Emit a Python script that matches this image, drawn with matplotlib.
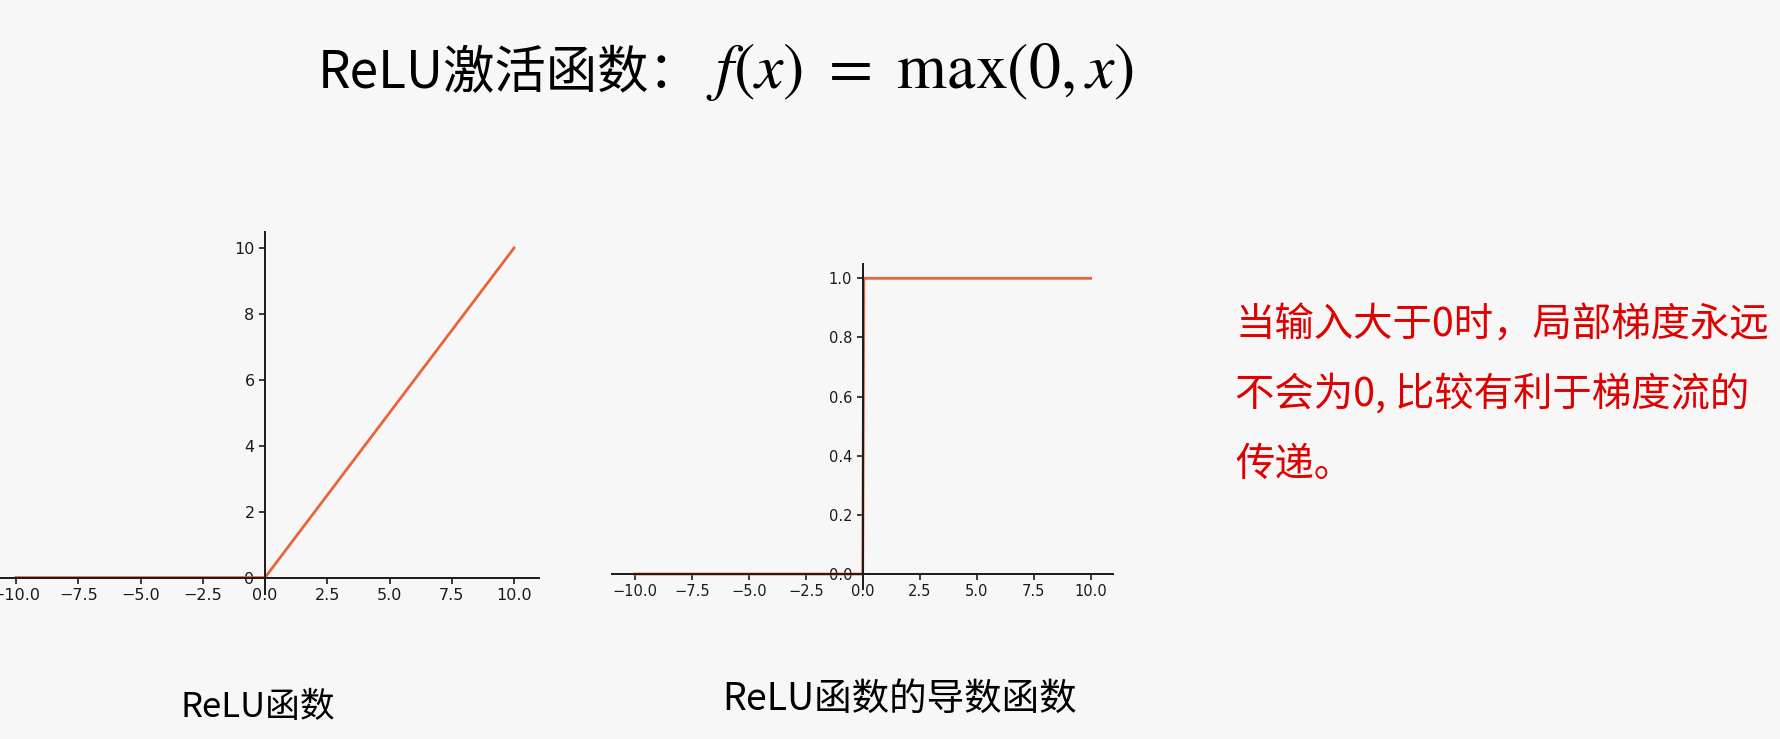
import matplotlib
matplotlib.use("Agg")
import matplotlib.pyplot as plt

# ---- data ----
relu_x = [-10.0, 0.0, 10.0]
relu_y = [0.0, 0.0, 10.0]
deriv_x = [-10.0, 0.0, 0.05, 10.0]
deriv_y = [0.0, 0.0, 1.0, 1.0]
x_ticks = [-10.0, -7.5, -5.0, -2.5, 0.0, 2.5, 5.0, 7.5, 10.0]
relu_yticks = [0, 2, 4, 6, 8, 10]
deriv_yticks = [0.0, 0.2, 0.4, 0.6, 0.8, 1.0]

title_text = "ReLU激活函数："
title_math = r"$f(x)\ =\ \max(0,x)$"
sub1 = "ReLU函数"
sub2 = "ReLU函数的导数函数"
note_lines = ["当输入大于0时，局部梯度永远", "不会为0, 比较有利于梯度流的", "传递。"]

BG = "#f7f7f7"
LINE = "#e8643c"
CJK = ["Noto Sans CJK SC", "DejaVu Sans"]

plt.rcParams["mathtext.fontset"] = "stix"

fig = plt.figure(figsize=(17.81, 7.39), dpi=100, facecolor=BG)


def style_axes(ax, labelsize):
    ax.set_facecolor("none")
    ax.spines["right"].set_visible(False)
    ax.spines["top"].set_visible(False)
    ax.spines["left"].set_position(("data", 0))
    ax.spines["bottom"].set_position(("data", 0))
    for s in ("left", "bottom"):
        ax.spines[s].set_color("#1a1a1a")
        ax.spines[s].set_linewidth(1.4)
    ax.tick_params(labelsize=labelsize, colors="#1a1a1a", length=4, width=1.2)


ax1 = fig.add_axes([-0.0050, 0.1962, 0.3076, 0.4905])
ax1.plot(relu_x, relu_y, color=LINE, lw=2.0)
ax1.set_xlim(-11, 11)
ax1.set_ylim(-0.5, 10.5)
ax1.set_xticks(x_ticks)
ax1.set_yticks(relu_yticks)
style_axes(ax1, 11.5)

ax2 = fig.add_axes([0.3436, 0.2032, 0.2816, 0.4402])
ax2.plot(deriv_x, deriv_y, color=LINE, lw=2.0)
ax2.set_xlim(-11, 11)
ax2.set_ylim(-0.05, 1.05)
ax2.set_xticks(x_ticks)
ax2.set_yticks(deriv_yticks)
style_axes(ax2, 10.5)

# title
fig.text(318 / 1781, 1 - 88 / 739, title_text, family=CJK, fontsize=37,
         ha="left", va="baseline", color="black")
fig.text(706 / 1781, 1 - 88 / 739, title_math, fontsize=46,
         ha="left", va="baseline", color="black")

# subtitles
fig.text(258 / 1781, 1 - 707 / 739, sub1, family=CJK, fontsize=25,
         ha="center", va="center", color="black")
fig.text(900 / 1781, 1 - 699 / 739, sub2, family=CJK, fontsize=27,
         ha="center", va="center", color="black")

# red note
for line, yc in zip(note_lines, [326, 395, 465]):
    fig.text(1235 / 1781, 1 - yc / 739, line, family=CJK, fontsize=28.4,
             ha="left", va="center", color="#e00000")

fig.savefig("out.png", dpi=100, facecolor=BG)
